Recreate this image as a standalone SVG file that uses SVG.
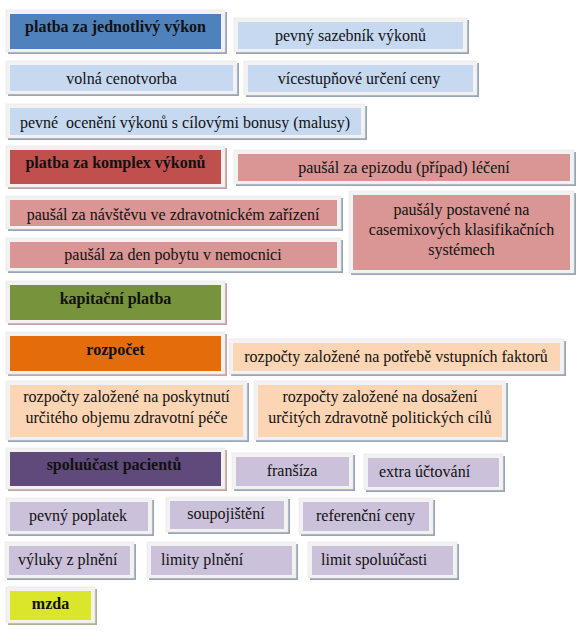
<svg xmlns="http://www.w3.org/2000/svg" width="581" height="632" viewBox="0 0 581 632">
<style>
.t text{font-size:16px;fill:#111;}
.c{text-anchor:middle}
.b{font-weight:bold}
.fr{fill:#f2f2f2;stroke:#e4e4e4;stroke-width:0.6}
.sh{fill:#98a5b7}
.shr{fill:#c4a3a3}
.shy{fill:#aeb18f}
.h1{fill:#4f81bd}
.h2{fill:#c0504d}
.h3{fill:#77933c}
.h4{fill:#e46c0a}
.h5{fill:#604a7b}
.h6{fill:#dbe62a}
.lb{fill:#c6d9f1}
.pk{fill:#d99694}
.pc{fill:#fcd5b5}
.li{fill:#ccc1da}
</style>
<rect width="581" height="632" fill="#fff"/>
<g id="connectors"/>
<g class="t" font-family="Liberation Serif, Times New Roman, serif">
<g id="n1"><rect class="sh" x="8" y="12" width="219" height="42"/><rect class="fr" x="6" y="10" width="219" height="42"/><rect class="h1" x="10" y="14" width="211" height="35"/><text class="c b" x="115.5" y="32">platba za jednotlivý výkon</text></g>
<g id="n2"><rect class="sh" x="236" y="20" width="233" height="34"/><rect class="fr" x="234" y="18" width="233" height="34"/><rect class="lb" x="238" y="22" width="225" height="27"/><text class="c" x="350.5" y="41">pevný sazebník výkonů</text></g>
<g id="n3"><rect class="sh" x="8" y="63" width="231" height="33"/><rect class="fr" x="6" y="61" width="231" height="33"/><rect class="lb" x="10" y="65" width="223" height="26"/><text class="c" x="121.5" y="84">volná cenotvorba</text></g>
<g id="n4"><rect class="sh" x="246" y="63" width="233" height="34"/><rect class="fr" x="244" y="61" width="233" height="34"/><rect class="lb" x="248" y="65" width="225" height="27"/><text class="c" x="359" y="84">vícestupňové určení ceny</text></g>
<g id="n5"><rect class="sh" x="8" y="106" width="359" height="34"/><rect class="fr" x="6" y="104" width="359" height="34"/><rect class="lb" x="10" y="108" width="351" height="27"/><text class="c" x="185" y="128" style="white-space:pre">pevné  ocenění výkonů s cílovými bonusy (malusy)</text></g>

<g id="n6"><rect class="shr" x="8" y="148" width="219" height="41"/><rect class="fr" x="6" y="146" width="219" height="41"/><rect class="h2" x="10" y="150" width="211" height="34"/><text class="c b" x="115.5" y="168">platba za komplex výkonů</text></g>
<g id="n7"><rect class="sh" x="236" y="152" width="340" height="34"/><rect class="fr" x="234" y="150" width="340" height="34"/><rect class="pk" x="238" y="154" width="332" height="27"/><text class="c" x="404" y="173">paušál za epizodu (případ) léčení</text></g>
<g id="n8"><rect class="sh" x="8" y="198" width="335" height="33"/><rect class="fr" x="6" y="196" width="335" height="33"/><rect class="pk" x="10" y="200" width="327" height="26"/><text class="c" x="173" y="220">paušál za návštěvu ve zdravotnickém zařízení</text></g>
<g id="n9"><rect class="sh" x="8" y="240" width="335" height="33"/><rect class="fr" x="6" y="238" width="335" height="33"/><rect class="pk" x="10" y="242" width="327" height="26"/><text class="c" x="173" y="260">paušál za den pobytu v nemocnici</text></g>
<g id="n10"><rect class="sh" x="351" y="193" width="225" height="82"/><rect class="fr" x="349" y="191" width="225" height="82"/><rect class="pk" x="353" y="195" width="217" height="75"/><text class="c" x="461.5" y="215">paušály postavené na</text><text class="c" x="461.5" y="235">casemixových klasifikačních</text><text class="c" x="461.5" y="255">systémech</text></g>

<g id="n11"><rect class="shr" x="8" y="283" width="219" height="42"/><rect class="fr" x="6" y="281" width="219" height="42"/><rect class="h3" x="10" y="285" width="211" height="35"/><text class="c b" x="115.5" y="304">kapitační platba</text></g>

<g id="n12"><rect class="shr" x="8" y="334" width="219" height="42"/><rect class="fr" x="6" y="332" width="219" height="42"/><rect class="h4" x="10" y="336" width="211" height="35"/><text class="c b" x="115.5" y="355">rozpočet</text></g>
<g id="n13"><rect class="sh" x="231" y="341" width="335" height="35"/><rect class="fr" x="229" y="339" width="335" height="35"/><rect class="pc" x="233" y="343" width="327" height="28"/><text class="c" x="396" y="362">rozpočty založené na potřebě vstupních faktorů</text></g>
<g id="n14"><rect class="sh" x="8" y="383" width="241" height="59"/><rect class="fr" x="6" y="381" width="241" height="59"/><rect class="pc" x="10" y="385" width="233" height="52"/><text class="c" x="126.5" y="402">rozpočty založené na poskytnutí</text><text class="c" x="126.5" y="423">určitého objemu zdravotní péče</text></g>
<g id="n15"><rect class="sh" x="256" y="383" width="252" height="59"/><rect class="fr" x="254" y="381" width="252" height="59"/><rect class="pc" x="258" y="385" width="244" height="52"/><text class="c" x="380" y="402">rozpočty založené na dosažení</text><text class="c" x="380" y="423">určitých zdravotně politických cílů</text></g>

<g id="n16"><rect class="shr" x="8" y="450" width="219" height="41"/><rect class="fr" x="6" y="448" width="219" height="41"/><rect class="h5" x="10" y="452" width="211" height="34"/><text class="c b" x="114" y="470">spoluúčast pacientů</text></g>
<g id="n17"><rect class="sh" x="234" y="455" width="121" height="36"/><rect class="fr" x="232" y="453" width="121" height="36"/><rect class="li" x="236" y="457" width="113" height="29"/><text class="c" x="292" y="476">franšíza</text></g>
<g id="n18"><rect class="sh" x="366" y="456" width="139" height="36"/><rect class="fr" x="364" y="454" width="139" height="36"/><rect class="li" x="368" y="458" width="131" height="29"/><text x="379" y="477">extra účtování</text></g>
<g id="n19"><rect class="sh" x="8" y="500" width="146" height="36"/><rect class="fr" x="6" y="498" width="146" height="36"/><rect class="li" x="10" y="502" width="138" height="29"/><text class="c" x="78" y="521">pevný poplatek</text></g>
<g id="n20"><rect class="sh" x="168" y="499" width="122" height="35"/><rect class="fr" x="166" y="497" width="122" height="35"/><rect class="li" x="170" y="501" width="114" height="28"/><text class="c" x="226" y="519">soupojištění</text></g>
<g id="n21"><rect class="sh" x="301" y="500" width="134" height="36"/><rect class="fr" x="299" y="498" width="134" height="36"/><rect class="li" x="303" y="502" width="126" height="29"/><text class="c" x="365.5" y="521">referenční ceny</text></g>
<g id="n22"><rect class="sh" x="7" y="544" width="129" height="36"/><rect class="fr" x="5" y="542" width="129" height="36"/><rect class="li" x="9" y="546" width="121" height="29"/><text x="18" y="565">výluky z plnění</text></g>
<g id="n23"><rect class="sh" x="149" y="544" width="149" height="36"/><rect class="fr" x="147" y="542" width="149" height="36"/><rect class="li" x="151" y="546" width="141" height="29"/><text x="161" y="565">limity plnění</text></g>
<g id="n24"><rect class="sh" x="310" y="544" width="149" height="36"/><rect class="fr" x="308" y="542" width="149" height="36"/><rect class="li" x="312" y="546" width="141" height="29"/><text x="321" y="565">limit spoluúčasti</text></g>

<g id="n25"><rect class="shy" x="8" y="589" width="89" height="36"/><rect class="fr" x="6" y="587" width="89" height="36"/><rect class="h6" x="10" y="591" width="81" height="29"/><text class="c b" x="50.5" y="609">mzda</text></g>
</g>
</svg>
